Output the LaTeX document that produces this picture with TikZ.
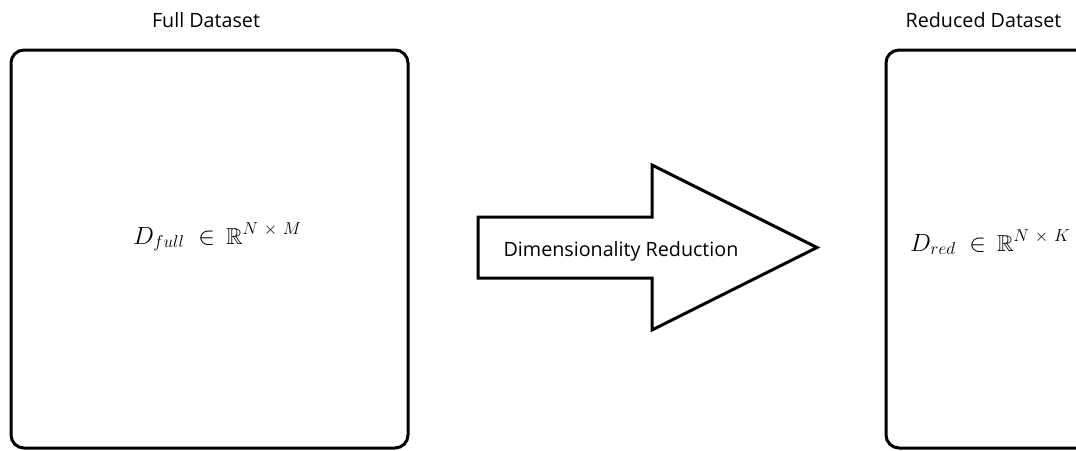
\documentclass[tikz,border=0pt]{standalone}
\usepackage{amssymb}
\usepackage{fontspec}
\setmainfont{Open Sans}
\newcommand{\subsz}[1]{\mbox{\fontsize{18}{20}\selectfont$#1$}}
\begin{document}
\begin{tikzpicture}[x=1pt,y=-1pt,
  panel/.style={draw=black, line width=3pt, rounded corners=13pt, fill=white},
  title/.style={font=\fontsize{19.7}{23}\selectfont, anchor=base, inner sep=0pt},
  mathlbl/.style={font=\fontsize{23}{27}\selectfont, inner sep=0pt, anchor=base west},
  bigarrow/.style={draw=black, line width=3pt, fill=white, line join=miter}]
\useasboundingbox (0,0) rectangle (1076,450);
\clip (0,0) rectangle (1076,450);
\fill[white] (0,0) rectangle (1076,450);
% panels
\draw[panel] (11,50) rectangle (408,448);
\draw[panel] (886,50) rectangle (1284,448);
% titles
\node[title] (tfull) at (206,27) {Full Dataset};
\node[title] (tred) at (983.5,27) {Reduced Dataset};
% math labels
\node[mathlbl] (mfull) at (133,244) {$D_{\subsz{full}} \;\in\, \mathbb{R}^{\subsz{N\mskip2mu\times\mskip2mu M}}$};
\node[mathlbl] (mred) at (910,251) {$D_{\subsz{red}} \;\in\, \mathbb{R}^{\subsz{N\mskip2mu\times\mskip2mu K}}$};
% big arrow
\draw[bigarrow] (478,217) -- (652,217) -- (652,165) -- (817,247.5) -- (652,330) -- (652,278) -- (478,278) -- cycle;
\node[title] (arrowtext) at (621,256.5) {Dimensionality Reduction};
\end{tikzpicture}
\end{document}
